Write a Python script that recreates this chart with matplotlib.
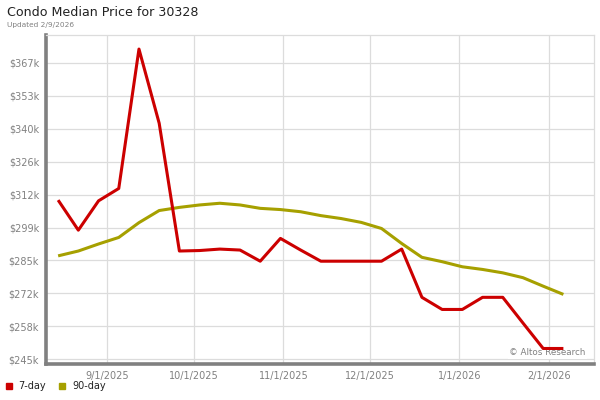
import matplotlib
matplotlib.use('Agg')
import matplotlib.pyplot as plt
from matplotlib.lines import Line2D
import pandas as pd

# weekly sample dates
dates = pd.date_range('2025-08-15', '2026-02-06', freq='7D')

# 7-day and 90-day median condo price, in $k
price_7day = [310.6, 298.2, 310.3, 315.4, 372.9, 342.3, 289.6, 289.8, 290.4, 290.0,
              285.4, 294.8, 290.0, 285.4, 285.4, 285.4, 285.4, 290.4, 270.5, 265.5,
              265.5, 270.5, 270.5, 259.9, 249.4, 249.4]
price_90day = [287.6, 289.6, 292.5, 295.2, 301.3, 306.3, 307.6, 308.6, 309.3, 308.6,
               307.2, 306.7, 305.8, 304.2, 303.0, 301.4, 298.9, 292.7, 287.0, 285.2,
               283.1, 282.0, 280.6, 278.6, 275.1, 271.7]

y_ticks = [245 + i * 13.575 for i in range(10)]
y_labels = ['$245k', '$258k', '$272k', '$285k', '$299k', '$312k', '$326k', '$340k', '$353k', '$367k']
x_ticks = pd.to_datetime(['2025-09-01', '2025-10-01', '2025-11-01', '2025-12-01', '2026-01-01', '2026-02-01'])
x_labels = ['9/1/2025', '10/1/2025', '11/1/2025', '12/1/2025', '1/1/2026', '2/1/2026']

red = '#cc0000'
olive = '#a6a000'
grey = '#808080'

fig = plt.figure(figsize=[6, 4], dpi=100)
ax = fig.add_axes([46 / 600, 36 / 400, 548 / 600, 329 / 400])

ax.plot(dates, price_90day, color=olive, lw=2.2, solid_capstyle='butt', zorder=3)
ax.plot(dates, price_7day, color=red, lw=2.2, solid_capstyle='butt', zorder=4)

ax.set_xlim(pd.Timestamp('2025-09-01') - pd.Timedelta(days=21.2),
            pd.Timestamp('2026-02-01') + pd.Timedelta(days=15.6))
ax.set_ylim(243.0, 378.7)

ax.set_yticks(y_ticks)
ax.set_yticklabels(y_labels)
ax.set_xticks(x_ticks)
ax.set_xticklabels(x_labels)
ax.tick_params(length=0, labelsize=7, colors='#808080', pad=5)

ax.grid(True, color='#dcdcdc', lw=0.9)
ax.set_axisbelow(True)

# spines: heavy grey left/bottom, light top/right
for side in ['top', 'right']:
    ax.spines[side].set_color('#dcdcdc')
    ax.spines[side].set_linewidth(0.9)
for side in ['left', 'bottom']:
    ax.spines[side].set_color(grey)
    ax.spines[side].set_linewidth(2.6)

# watermark (sits under the lines)
ax.text(0.985, 0.02, '\u00a9 Altos Research', transform=ax.transAxes, ha='right', va='bottom',
        fontsize=6.3, color='#808080', zorder=2,
        bbox=dict(facecolor='white', edgecolor='none', pad=0.8))

# titles
fig.text(7 / 600, 1 - 13 / 400, 'Condo Median Price for 30328', fontsize=9.1, color='#222222', va='center')
fig.text(7 / 600, 1 - 25 / 400, 'Updated 2/9/2026', fontsize=5.3, color='#808080', va='center')

# legend
handles = [Line2D([], [], color=red, marker='s', ls='none', markersize=4.5),
           Line2D([], [], color=olive, marker='s', ls='none', markersize=4.5)]
leg = fig.legend(handles, ['7-day', '90-day'], loc='center left', bbox_to_anchor=(-0.002, 1 - 386 / 400),
                 ncol=2, frameon=False, fontsize=7, handlelength=1.0, handletextpad=0.5,
                 columnspacing=1.2, borderpad=0)
for t in leg.get_texts():
    t.set_color('#222222')

fig.savefig('out.png', dpi=100)
